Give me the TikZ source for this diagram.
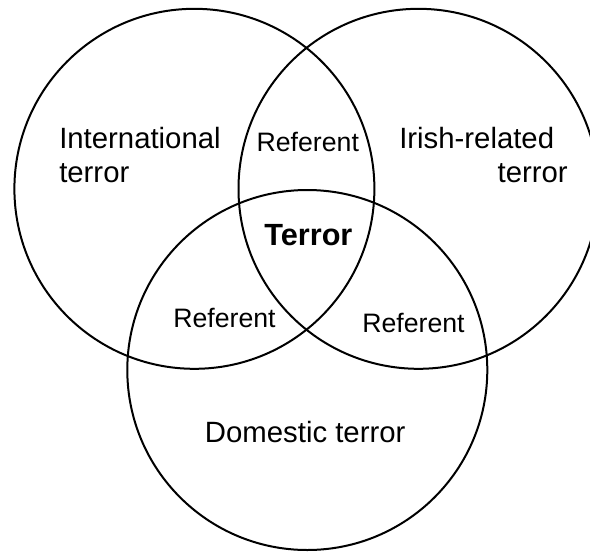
\documentclass[tikz,border=0pt]{standalone}
\usepackage{fontspec}
\setmainfont{Liberation Sans}
\begin{document}
\begin{tikzpicture}[x=0.75pt,y=-0.75pt]
        \tikzstyle{venn_set} = [shape = circle, draw = black, line width=1.5pt, minimum size=270pt, inner sep=0pt]
        \tikzstyle{venn_label} = [inner sep=0pt, font=\fontsize{22}{25.8}\selectfont]
        \tikzstyle{venn_ref} = [inner sep=0pt, font=\fontsize{20}{24}\selectfont]

        \useasboundingbox (0,0) rectangle (590,551);

        \node[venn_set] at (194.4, 188.8) (set_intl) {};

        \node[venn_set] at (418.5, 188.8) (set_irish) {};

        \node[venn_set] at (307.3, 370.0) (set_dom) {};

        \node[venn_label, anchor=base west, align=left] at (59, 182.7) (intl) {International\\terror};

        \node[venn_label, anchor=base west] at (399, 148.3) (irish) {Irish-related};

        \node[venn_label, anchor=base east] at (568, 182.7) (irish_b) {terror};

        \node[venn_label, anchor=base] at (305.2, 442.3) (dom) {Domestic terror};

        \node[venn_ref, anchor=base] at (307.8, 151.7) (ref_top) {Referent};

        \node[venn_ref, anchor=base] at (224.5, 327.3) (ref_left) {Referent};

        \node[venn_ref, anchor=base] at (413.5, 332.3) (ref_right) {Referent};

        \node[venn_label, anchor=base, font=\fontsize{23}{27}\selectfont\bfseries] at (308.4, 245) (core) {Terror};
      \end{tikzpicture}
\end{document}
